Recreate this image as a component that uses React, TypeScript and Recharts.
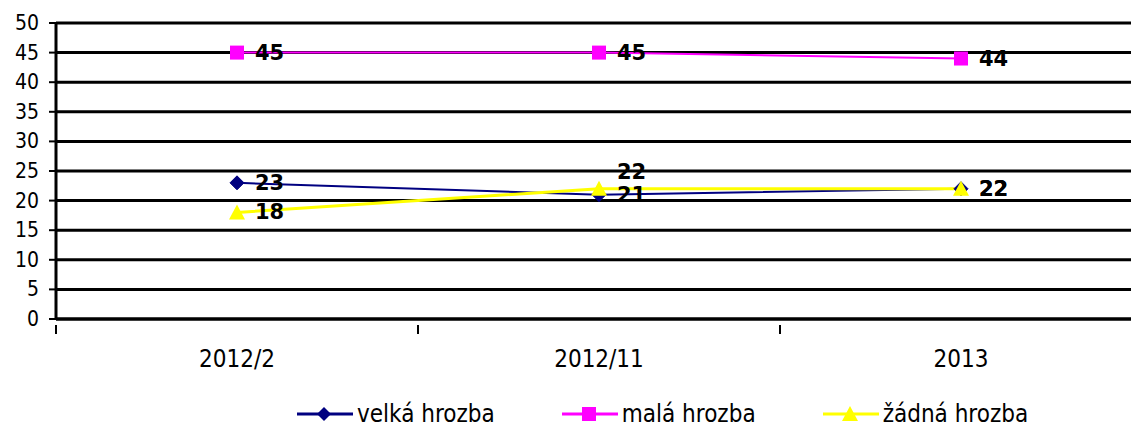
import React from "react";
import { LineChart, Line, XAxis, YAxis, CartesianGrid, Legend } from "recharts";

const categories = ["2012/2", "2012/11", "2013"];
const velka = [23, 21, 22];
const mala = [45, 45, 44];
const zadna = [18, 22, 22];
const yTicks = [0, 5, 10, 15, 20, 25, 30, 35, 40, 45, 50];

const seriesNames = ["velká hrozba", "malá hrozba", "žádná hrozba"];
const seriesColors = ["#000080", "#FF00FF", "#FFFF00"];

const data = categories.map((c, i) => ({
  cat: c,
  velka: velka[i],
  mala: mala[i],
  zadna: zadna[i],
}));

const COND = "'DejaVu Sans Condensed', 'DejaVu Sans', sans-serif";
const BAND = 362;

const Diamond = (props: any) => {
  const { cx, cy } = props;
  if (cx == null || cy == null) return null;
  return <path d={`M${cx},${cy - 7} L${cx + 7},${cy} L${cx},${cy + 7} L${cx - 7},${cy} Z`} fill="#000080" stroke="#000080" />;
};
const Square = (props: any) => {
  const { cx, cy } = props;
  if (cx == null || cy == null) return null;
  return <rect x={cx - 7} y={cy - 7} width={14} height={14} fill="#FF00FF" />;
};
const Triangle = (props: any) => {
  const { cx, cy } = props;
  if (cx == null || cy == null) return null;
  return <path d={`M${cx},${cy - 8} L${cx + 8},${cy + 7} L${cx - 8},${cy + 7} Z`} fill="#FFFF00" />;
};

const makeLabel = (shiftUpIndex: number | null) => (props: any) => {
  const { x, y, value, index } = props;
  const dy = index === shiftUpIndex ? -17 : 0;
  return (
    <text
      x={x + 18}
      y={y + dy}
      dominantBaseline="central"
      textAnchor="start"
      fontFamily="'DejaVu Sans', sans-serif"
      fontWeight="bold"
      fontSize={21}
      fill="#000"
    >
      {value}
    </text>
  );
};

const XTick = (props: any) => {
  const { x, y, payload } = props;
  return (
    <g>
      <line x1={x - BAND / 2} x2={x - BAND / 2} y1={y - 2} y2={y + 7} stroke="#000" strokeWidth={2} />
      <text x={x} y={y + 32} textAnchor="middle" dominantBaseline="central" fontFamily={COND} fontSize={24} fill="#000">
        {payload.value}
      </text>
    </g>
  );
};

const YTick = (props: any) => {
  const { x, y, payload } = props;
  return (
    <text x={x} y={y} textAnchor="end" dominantBaseline="central" fontFamily={COND} fontSize={21} fill="#000">
      {payload.value}
    </text>
  );
};

const legendIcons = [
  (c: string) => <path d="M27,3 L34,10 L27,17 L20,10 Z" fill={c} />,
  (c: string) => <rect x={20} y={3} width={14} height={14} fill={c} />,
  (c: string) => <path d="M27,2 L35,17 L19,17 Z" fill={c} />,
];

const LegendContent = () => (
  <div style={{ display: "flex", alignItems: "center" }}>
    {seriesNames.map((n, i) => (
      <div key={n} style={{ display: "flex", alignItems: "center", marginRight: i < 2 ? 67 : 0 }}>
        <svg width={56} height={20} style={{ display: "block" }}>
          <line x1={0} x2={56} y1={10} y2={10} stroke={seriesColors[i]} strokeWidth={3} />
          {legendIcons[i](seriesColors[i])}
        </svg>
        <span style={{ fontFamily: COND, fontSize: 24, color: "#000", marginLeft: 4, lineHeight: "26px" }}>{n}</span>
      </div>
    ))}
  </div>
);

export default function App() {
  return (
    <div style={{ position: "absolute", left: 0, top: 0, width: 1131, height: 427, overflow: "hidden", background: "#fff" }}>
      <LineChart width={1160} height={427} data={data} margin={{ top: 23, right: 18, left: 0, bottom: 0 }}>
        <CartesianGrid vertical={false} stroke="#000" strokeWidth={3} />
        <XAxis
          dataKey="cat"
          padding={{ left: BAND / 2, right: BAND / 2 }}
          axisLine={{ stroke: "#000", strokeWidth: 3 }}
          tickLine={false}
          tick={<XTick />}
          height={68}
          interval={0}
        />
        <YAxis
          domain={[0, 50]}
          ticks={yTicks}
          width={56}
          interval={0}
          axisLine={{ stroke: "#000", strokeWidth: 3 }}
          tickLine={{ stroke: "#000", strokeWidth: 2 }}
          tickSize={7}
          tickMargin={10}
          tick={<YTick />}
        />
        <Legend
          verticalAlign="bottom"
          height={40}
          content={<LegendContent />}
          wrapperStyle={{ left: 297, top: 401, width: 800, bottom: "auto" }}
        />
        <Line
          dataKey="velka"
          name={seriesNames[0]}
          stroke="#000080"
          strokeWidth={2}
          dot={<Diamond />}
          activeDot={false}
          isAnimationActive={false}
          label={makeLabel(null)}
        />
        <Line
          dataKey="mala"
          name={seriesNames[1]}
          stroke="#FF00FF"
          strokeWidth={2}
          dot={<Square />}
          activeDot={false}
          isAnimationActive={false}
          label={makeLabel(null)}
        />
        <Line
          dataKey="zadna"
          name={seriesNames[2]}
          stroke="#FFFF00"
          strokeWidth={3}
          dot={<Triangle />}
          activeDot={false}
          isAnimationActive={false}
          label={makeLabel(1)}
        />
      </LineChart>
    </div>
  );
}
